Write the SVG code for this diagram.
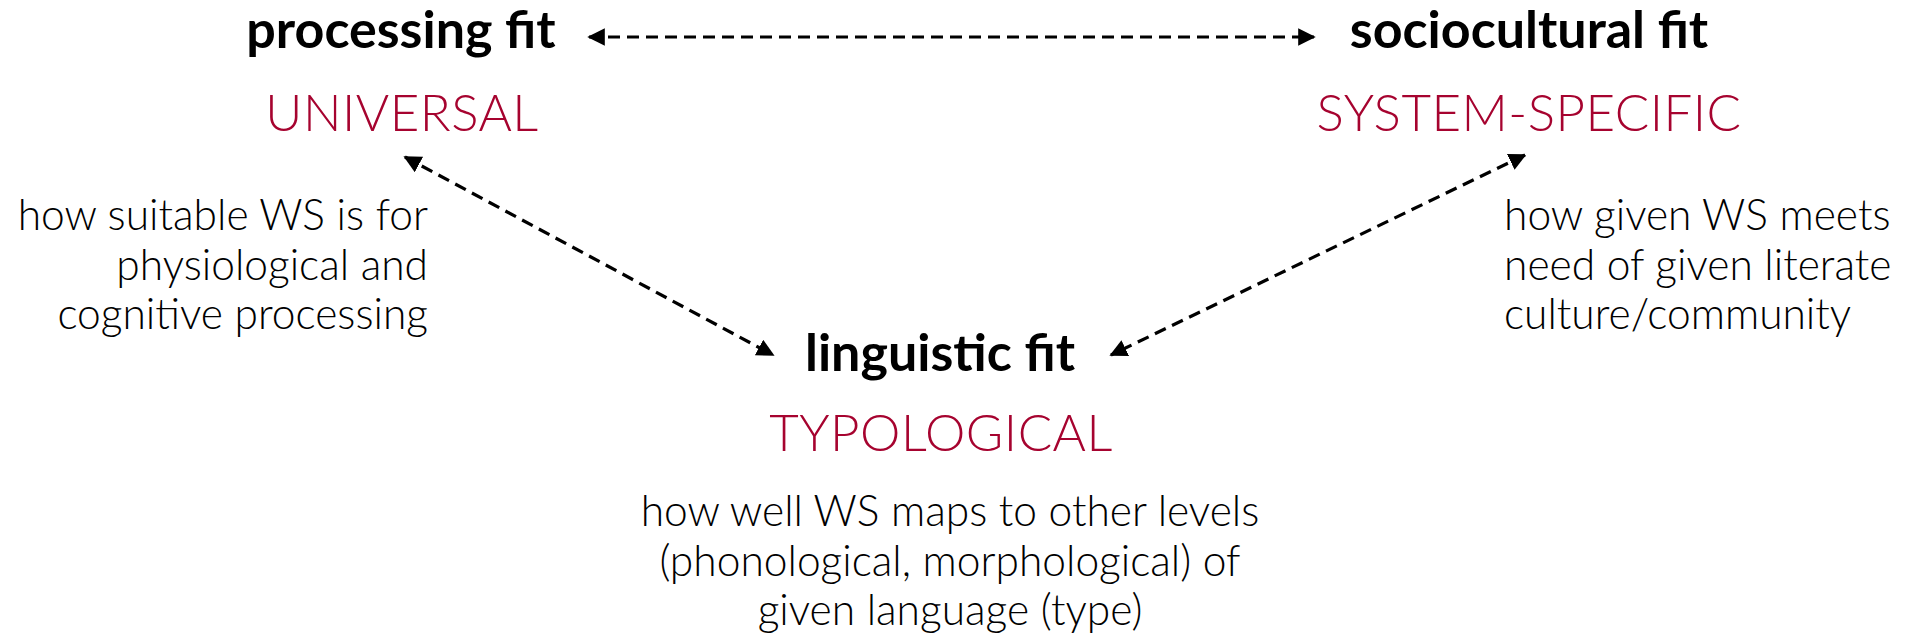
<svg xmlns="http://www.w3.org/2000/svg" width="1906" height="639" viewBox="0 0 1906 639">
<defs>
<marker id="ah" viewBox="0 0 10 10" refX="9" refY="5" markerWidth="5.5" markerHeight="5.5" orient="auto-start-reverse" markerUnits="strokeWidth">
<path d="M0,0 L10,5 L0,10 z" fill="#000"/>
</marker>
<style>
.title{font-family:Lato,"Liberation Sans",sans-serif;font-weight:700;font-size:52px;fill:#000}
.cat{font-family:Lato,"Liberation Sans",sans-serif;font-weight:300;font-size:51px;fill:#a6032f;letter-spacing:0.5px}
.desc{font-family:Lato,"Liberation Sans",sans-serif;font-weight:300;font-size:42.5px;fill:#000}
.conn{stroke:#000;stroke-width:3.2;fill:none;stroke-dasharray:12 7;marker-start:url(#ah);marker-end:url(#ah)}
</style>
</defs>
<rect width="1906" height="639" fill="#fff"/>
<g id="connectors">
<line class="conn" x1="589" y1="37" x2="1314" y2="37"/>
<line class="conn" x1="405" y1="157" x2="773" y2="355"/>
<line class="conn" x1="1525" y1="155" x2="1111" y2="355"/>
</g>
<g id="processing">
<text class="title" x="401" y="48" text-anchor="middle">processing fit</text>
<text class="cat" x="402" y="131" text-anchor="middle">UNIVERSAL</text>
<text class="desc" x="428" y="230" text-anchor="end">how suitable WS is for</text>
<text class="desc" x="428" y="280" text-anchor="end">physiological and</text>
<text class="desc" x="428" y="329" text-anchor="end">cognitive processing</text>
</g>
<g id="sociocultural">
<text class="title" x="1529" y="48" text-anchor="middle">sociocultural fit</text>
<text class="cat" x="1529" y="131" text-anchor="middle">SYSTEM-SPECIFIC</text>
<text class="desc" x="1504" y="230">how given WS meets</text>
<text class="desc" x="1504" y="280">need of given literate</text>
<text class="desc" x="1504" y="329">culture/community</text>
</g>
<g id="linguistic">
<text class="title" x="940" y="371" text-anchor="middle">linguistic fit</text>
<text class="cat" x="941" y="451" text-anchor="middle">TYPOLOGICAL</text>
<text class="desc" x="950" y="526" text-anchor="middle">how well WS maps to other levels</text>
<text class="desc" x="950" y="576" text-anchor="middle">(phonological, morphological) of</text>
<text class="desc" x="950" y="625" text-anchor="middle">given language (type)</text>
</g>
</svg>
